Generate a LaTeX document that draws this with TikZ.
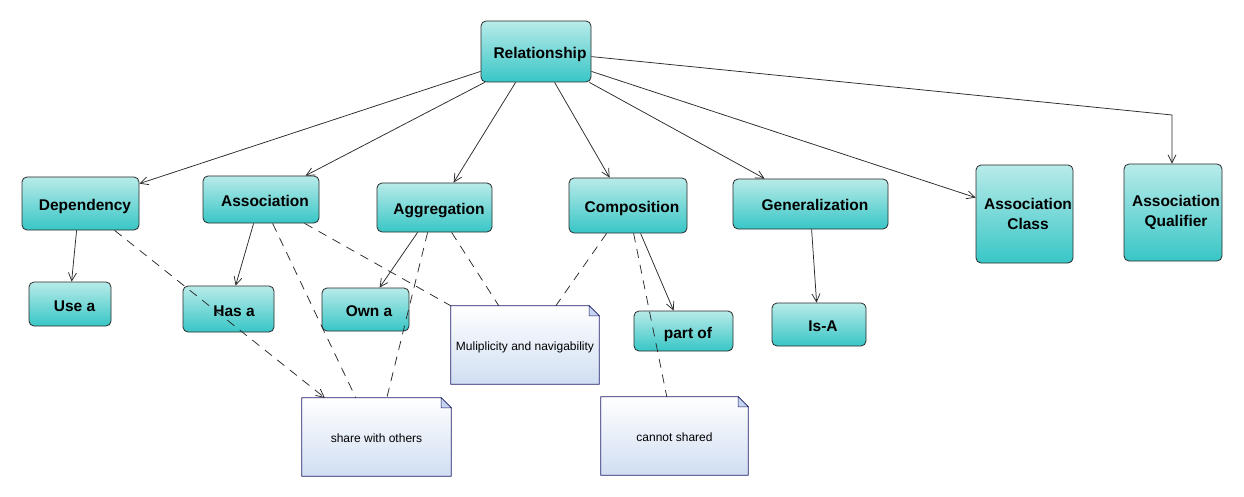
\documentclass[tikz,border=0pt]{standalone}
\usepackage{fontspec}
\setmainfont{Liberation Sans}
\usetikzlibrary{arrows.meta,backgrounds}
\definecolor{boxtop}{HTML}{B8EBE9}
\definecolor{boxbot}{HTML}{38C6C6}
\definecolor{edgec}{HTML}{2A2A2A}
\definecolor{notetop}{HTML}{FFFFFF}
\definecolor{notebot}{HTML}{D0DEF2}
\definecolor{noteline}{HTML}{1C1C6A}
\definecolor{notefold}{HTML}{C6D5EF}
\begin{document}
\begin{tikzpicture}[x=1pt,y=-1pt,
 box/.style={draw=edgec, line width=0.8pt, rounded corners=5pt, top color=boxtop, bottom color=boxbot,
   font=\bfseries\fontsize{15.5}{20}\selectfont, inner sep=0pt, align=center,
   text height=14pt, text depth=0pt},
 twoline/.style={text height=, text depth=},
 note/.style={inner sep=0pt, font=\fontsize{12}{14}\selectfont, text height=10pt, text depth=0pt},
 link/.style={draw=edgec, line width=0.75pt, -{Straight Barb[length=8pt,width=8pt]}},
 dlink/.style={draw=edgec, line width=0.75pt, dash pattern=on 9pt off 7pt},
]
\useasboundingbox (0,0) rectangle (1244,497);

% boxes
\node[box, minimum width=110pt, minimum height=61pt] (rel) at (536,51.5) {\hspace*{8pt}Relationship};
\node[box, minimum width=117pt, minimum height=53pt] (dep) at (80.5,203.5) {\hspace*{9pt}Dependency};
\node[box, minimum width=116pt, minimum height=47pt] (asso) at (261,199.5) {\hspace*{8pt}Association};
\node[box, minimum width=115pt, minimum height=49pt] (aggr) at (434.5,207.5) {\hspace*{9pt}Aggregation};
\node[box, minimum width=118pt, minimum height=55pt] (comp) at (628,205.5) {\hspace*{8pt}Composition};
\node[box, minimum width=155pt, minimum height=50pt] (gen) at (810.5,204) {\hspace*{9pt}Generalization};
\node[box, twoline, minimum width=97pt, minimum height=98pt] (acls) at (1024.5,214) {\hspace*{7pt}Association\\\hspace*{7pt}Class};
\node[box, twoline, minimum width=98pt, minimum height=97pt] (aqual) at (1173,212.5) {\hspace*{6pt}Association\\\hspace*{6pt}Qualifier};
\node[box, minimum width=82pt, minimum height=44pt] (usea) at (70,304) {\hspace*{9pt}Use a};
\node[box, minimum width=91pt, minimum height=46pt] (hasa) at (228.5,309) {\hspace*{11pt}Has a};
\node[box, minimum width=87pt, minimum height=43pt] (owna) at (365.5,309.5) {\hspace*{7pt}Own a};
\node[box, minimum width=99pt, minimum height=40pt] (partof) at (683.5,331) {\hspace*{9pt}part of};
\node[box, minimum width=94pt, minimum height=43pt] (isa) at (819,324.5) {\hspace*{8pt}Is-A};

% notes
\node[note, minimum width=148pt, minimum height=78pt] (mult) at (525,345) {Muliplicity and navigability};
\node[note, minimum width=149pt, minimum height=78pt] (share) at (376.5,437) {share with others};
\node[note, minimum width=147pt, minimum height=78pt] (cannot) at (674.5,436) {cannot shared};

\begin{scope}[on background layer]
  \fill[white] (0,0) rectangle (1244,497);
  \foreach \n in {mult,share,cannot}{
    \path[draw=noteline, line width=0.8pt, top color=notetop, bottom color=notebot]
      (\n.south west) -- (\n.north west) -- ([xshift=-10pt]\n.north east)
      -- ([yshift=-10pt]\n.north east) -- (\n.south east) -- cycle;
    \path[draw=noteline, line width=0.5pt, fill=notefold]
      ([xshift=-10pt]\n.north east) -- ([xshift=-10pt,yshift=-10pt]\n.north east)
      -- ([yshift=-10pt]\n.north east) -- cycle;
  }
\end{scope}

% solid connectors from Relationship
\draw[link] ([yshift=11pt]rel.south west) -- ([yshift=-7pt]dep.north east);
\draw[link] ([xshift=4pt]rel.south west) -- ([xshift=103pt]asso.north west);
\draw[link] ([xshift=35pt]rel.south west) -- ([xshift=77pt]aggr.north west);
\draw[link] ([xshift=74pt]rel.south west) -- ([xshift=41pt]comp.north west);
\draw[link] ([xshift=-2pt]rel.south east) -- ([xshift=32pt]gen.north west);
\draw[link] ([yshift=11pt]rel.south east) -- ([yshift=-33pt]acls.north west);
\coordinate (bend) at (1172,115);
\draw[link] ([yshift=-36pt]rel.north east) -- (bend) -- ([xshift=-1pt]aqual.north);

% children
\draw[link] ([xshift=55pt]dep.south west) -- ([xshift=43pt]usea.north west);
\draw[link] ([xshift=51pt]asso.south west) -- ([xshift=53pt]hasa.north west);
\draw[link] ([xshift=41pt]aggr.south west) -- ([xshift=58pt]owna.north west);
\draw[link] ([xshift=72pt]comp.south west) -- ([xshift=40pt]partof.north west);
\draw[link] ([xshift=79pt]gen.south west) -- ([xshift=45pt]isa.north west);

% dashed note links
\draw[dlink, -{Straight Barb[length=8pt,width=8pt]}] ([xshift=93pt]dep.south west) -- ([xshift=23pt]share.north west);
\draw[dlink] ([xshift=70pt]asso.south west) -- ([xshift=54pt]share.north west);
\draw[dlink] ([xshift=102pt]asso.south west) -- (mult.north west);
\draw[dlink] ([xshift=51pt]aggr.south west) -- ([xshift=85pt]share.north west);
\draw[dlink] ([xshift=75pt]aggr.south west) -- ([xshift=48pt]mult.north west);
\draw[dlink] ([xshift=38pt]comp.south west) -- ([xshift=105pt]mult.north west);
\draw[dlink] ([xshift=65pt]comp.south west) -- ([xshift=66pt]cannot.north west);
\end{tikzpicture}
\end{document}
